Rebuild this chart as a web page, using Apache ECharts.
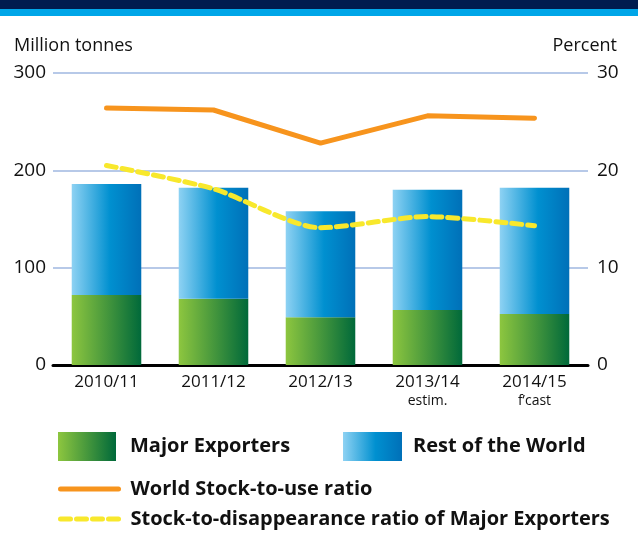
<!DOCTYPE html>
<html>
<head>
<meta charset="utf-8">
<script src="https://cdn.jsdelivr.net/npm/echarts@6/dist/echarts.min.js"></script>
<style>
  html, body { margin: 0; padding: 0; background: #fff; }
  #chart { width: 638px; height: 533px; }
</style>
</head>
<body>
<div id="chart"></div>
<script>
// Marketing years and their status notes
const seasons = ['2010/11', '2011/12', '2012/13', '2013/14', '2014/15'];
const seasonNotes = ['', '', '', 'estim.', 'f\u2019cast'];

// Stocks, million tonnes
const majorExporters = [72, 68, 49, 56.5, 52.5];
const restOfWorld = [114, 114, 109, 123.5, 129.5];

// Ratios, percent
const worldStockToUse = [26.4, 26.2, 22.8, 25.6, 25.35];
const exportersStockToDisappearance = [20.5, 18.1, 14.1, 15.25, 14.3];

// Axis ticks
const leftTicks = { min: 0, max: 300, interval: 100 };
const rightTicks = { min: 0, max: 30, interval: 10 };

const FONT = '"Open Sans", "Noto Sans", sans-serif';
const ORANGE = '#f7941d';
const YELLOW = '#f8e82c';
const DASH = [10, 6];

const greenFill = new echarts.graphic.LinearGradient(0, 0, 1, 0, [
  { offset: 0, color: '#8dc63f' },
  { offset: 1, color: '#00693a' }
]);
const blueFill = new echarts.graphic.LinearGradient(0, 0, 1, 0, [
  { offset: 0, color: '#8ed2f3' },
  { offset: 0.55, color: '#0090d0' },
  { offset: 1, color: '#0070b8' }
]);

const chart = echarts.init(document.getElementById('chart'), null, { renderer: 'canvas' });

const legendText = (padLeft) => ({
  fontFamily: FONT, fontSize: 20, fontWeight: 'bold', color: '#111', padding: [0, 0, 0, padLeft]
});

chart.setOption({
  animation: false,
  backgroundColor: '#fff',
  textStyle: { fontFamily: FONT },
  graphic: [
    { type: 'rect', left: 0, top: 0, shape: { width: 638, height: 9 }, style: { fill: '#001c4f' } },
    { type: 'rect', left: 0, top: 9, shape: { width: 638, height: 7 }, style: { fill: '#00a6e8' } }
  ],
  grid: { left: 53, right: 50, top: 73, height: 292 },
  legend: [
    {
      data: ['Major Exporters'], icon: 'rect', left: 53, top: 427, itemWidth: 58, itemHeight: 29,
      textStyle: legendText(9)
    },
    {
      data: ['Rest of the World'], icon: 'rect', left: 338, top: 427, itemWidth: 59, itemHeight: 29,
      textStyle: legendText(6)
    },
    {
      data: ['World Stock-to-use ratio'], left: 53, top: 474, itemWidth: 58, itemHeight: 14,
      itemStyle: { color: 'transparent', borderWidth: 0, opacity: 0 },
      lineStyle: { color: ORANGE, width: 5, cap: 'round' },
      textStyle: legendText(7)
    },
    {
      data: ['Stock-to-disappearance ratio of Major Exporters'], left: 53, top: 504, itemWidth: 58, itemHeight: 14,
      itemStyle: { color: 'transparent', borderWidth: 0, opacity: 0 },
      lineStyle: { color: YELLOW, width: 5, type: DASH, cap: 'round' },
      textStyle: legendText(7)
    }
  ],
  xAxis: {
    type: 'category',
    data: seasons,
    axisTick: { show: false },
    axisLine: { show: true, lineStyle: { color: '#000', width: 3 } },
    axisLabel: {
      margin: 7,
      interval: 0,
      formatter: (v, i) => seasonNotes[i] ? '{y|' + v + '}\n{n|' + seasonNotes[i] + '}' : '{y|' + v + '}',
      rich: {
        y: { fontFamily: FONT, fontSize: 17, color: '#111', lineHeight: 21 },
        n: { fontFamily: FONT, fontSize: 14, color: '#111', lineHeight: 16 }
      }
    }
  },
  yAxis: [
    {
      type: 'value',
      min: leftTicks.min, max: leftTicks.max, interval: leftTicks.interval,
      name: 'Million tonnes',
      nameLocation: 'end',
      nameGap: 18,
      nameTextStyle: { fontFamily: FONT, fontSize: 18, color: '#111', align: 'left', padding: [0, 0, 0, -39] },
      axisLine: { show: false },
      axisTick: { show: false },
      axisLabel: { fontFamily: FONT, fontSize: 19, color: '#111', margin: 7 },
      splitLine: { show: true, lineStyle: { color: '#9fb7e0', width: 1.5 } }
    },
    {
      type: 'value',
      position: 'right',
      min: rightTicks.min, max: rightTicks.max, interval: rightTicks.interval,
      name: 'Percent',
      nameLocation: 'end',
      nameGap: 18,
      nameTextStyle: { fontFamily: FONT, fontSize: 18, color: '#111', align: 'right', padding: [0, -29, 0, 0] },
      axisLine: { show: false },
      axisTick: { show: false },
      axisLabel: { fontFamily: FONT, fontSize: 19, color: '#111', margin: 9 },
      splitLine: { show: false }
    }
  ],
  series: [
    {
      name: 'Major Exporters',
      type: 'bar',
      stack: 'stocks',
      data: majorExporters,
      barWidth: '65%',
      itemStyle: { color: greenFill }
    },
    {
      name: 'Rest of the World',
      type: 'bar',
      stack: 'stocks',
      data: restOfWorld,
      barWidth: '65%',
      itemStyle: { color: blueFill }
    },
    {
      name: 'World Stock-to-use ratio',
      type: 'line',
      yAxisIndex: 1,
      data: worldStockToUse,
      symbol: 'none',
      z: 5,
      lineStyle: { color: ORANGE, width: 5, cap: 'round', join: 'round' },
      itemStyle: { color: ORANGE }
    },
    {
      name: 'Stock-to-disappearance ratio of Major Exporters',
      type: 'line',
      yAxisIndex: 1,
      data: exportersStockToDisappearance,
      symbol: 'none',
      smooth: 0.25,
      z: 6,
      lineStyle: { color: YELLOW, width: 5, type: DASH, cap: 'round' },
      itemStyle: { color: YELLOW }
    }
  ]
});
</script>
</body>
</html>
